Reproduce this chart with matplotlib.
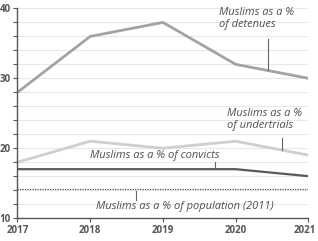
import matplotlib.pyplot as plt
import matplotlib.transforms as mtransforms
from matplotlib.ticker import MultipleLocator

jahre = [2017, 2018, 2019, 2020, 2021]
detenues = [28, 36, 38, 32, 30]
undertrials = [18, 21, 20, 21, 19]
convicts = [17, 17, 17, 17, 16]
bevoelkerung = 14.2

plt.rcParams["font.family"] = ["Open Sans", "DejaVu Sans"]

fig = plt.figure(figsize=(3.18, 2.41), dpi=100)
ax = fig.add_axes([0.055, 0.095, 0.915, 0.87])

ax.set_xlim(2017, 2021)
ax.set_ylim(10, 40)
ax.yaxis.set_minor_locator(MultipleLocator(2))
ax.set_yticks([10, 20, 30, 40])
ax.set_xticks(jahre)
ax.grid(True, which="both", axis="y", color="#e8e8e8", linewidth=0.8)
ax.set_axisbelow(True)

for seite in ["top", "right"]:
    ax.spines[seite].set_visible(False)
for seite in ["left", "bottom"]:
    ax.spines[seite].set_color("#555555")
    ax.spines[seite].set_linewidth(1.0)

ax.tick_params(axis="both", which="major", labelsize=7, colors="#555555",
               length=3, width=0.8, pad=2)
ax.tick_params(axis="y", which="minor", length=3, width=0.8, color="#555555")
for lbl in ax.get_xticklabels() + ax.get_yticklabels():
    lbl.set_fontweight("bold")

# letztes Jahres-Label etwas nach links, damit es nicht abgeschnitten wird
letztes = ax.get_xticklabels()[-1]
letztes.set_transform(letztes.get_transform()
                      + mtransforms.ScaledTranslation(-3 / 72, 0, fig.dpi_scale_trans))

ax.plot(jahre, detenues, color="#a3a3a3", linewidth=2)
ax.plot(jahre, undertrials, color="#cfcfcf", linewidth=2)
ax.plot(jahre, convicts, color="#5a5a5a", linewidth=1.6)
ax.axhline(bevoelkerung, color="#555555", linewidth=0.9, linestyle=(0, (1, 1)))

stil = dict(fontsize=8, style="italic", color="#505050")
ax.text(2019.77, 40.2, "Muslims as a %\nof detenues", va="top", ha="left",
        linespacing=1.1, **stil)
ax.plot([2020.45, 2020.45], [35.6, 31.2], color="#666666", linewidth=0.8)

ax.text(2019.88, 25.7, "Muslims as a %\nof undertrials", va="top", ha="left",
        linespacing=1.1, **stil)
ax.plot([2020.64, 2020.64], [21.5, 19.7], color="#666666", linewidth=0.8)

ax.text(2018.0, 19.0, "Muslims as a % of convicts", va="center", ha="left", **stil)
ax.plot([2019.71, 2019.71], [18.0, 17.0], color="#666666", linewidth=0.8)

ax.text(2018.08, 11.6, "Muslims as a % of population (2011)", va="center",
        ha="left", **stil)
ax.plot([2018.63, 2018.63], [13.9, 12.6], color="#666666", linewidth=0.8)

fig.savefig("out.png", dpi=100, facecolor="white")
